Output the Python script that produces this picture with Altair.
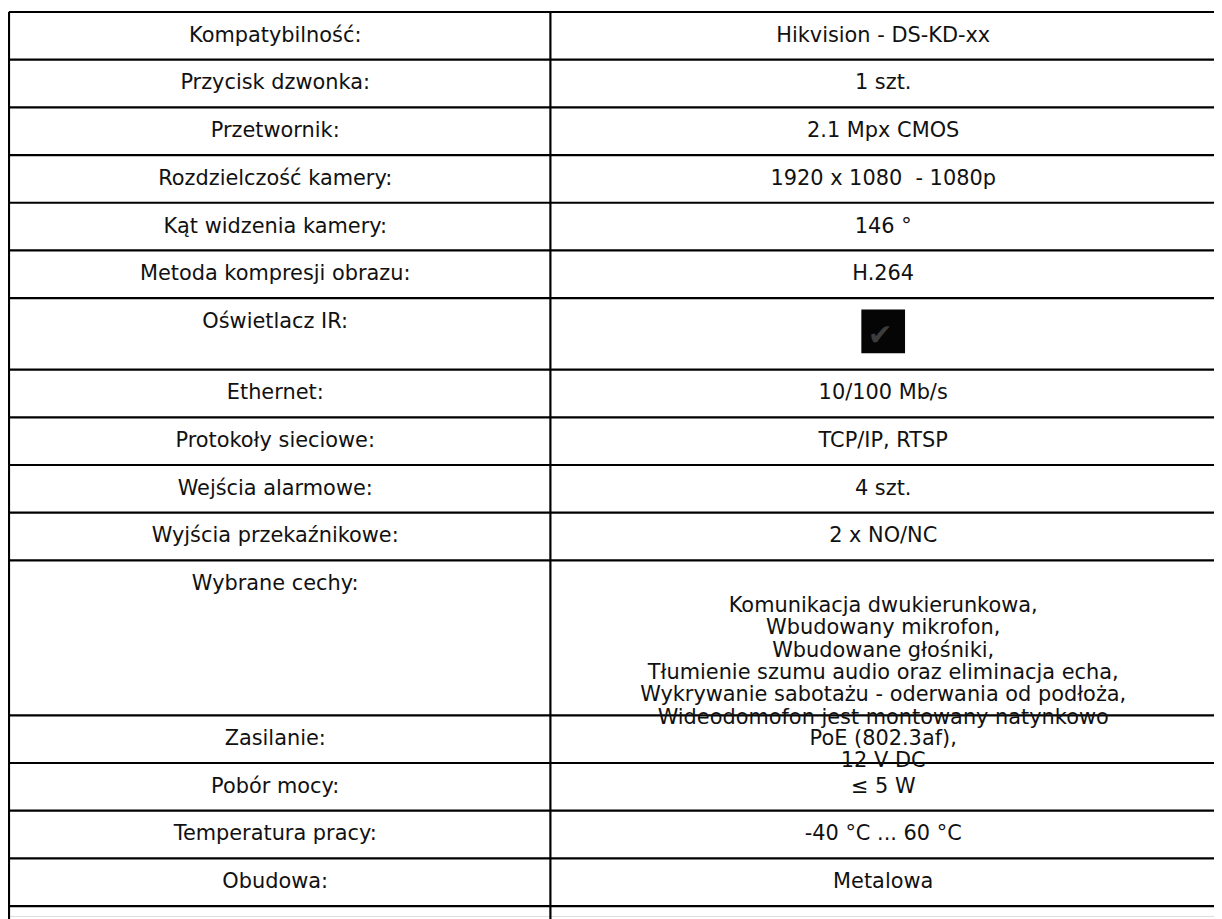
import altair as alt
import pandas as pd

# ---- table content ----
labels = [
    "Kompatybilność:", "Przycisk dzwonka:", "Przetwornik:", "Rozdzielczość kamery:",
    "Kąt widzenia kamery:", "Metoda kompresji obrazu:", "Oświetlacz IR:", "Ethernet:",
    "Protokoły sieciowe:", "Wejścia alarmowe:", "Wyjścia przekaźnikowe:", "Wybrane cechy:",
    "Zasilanie:", "Pobór mocy:", "Temperatura pracy:", "Obudowa:", "",
]
values = [
    ["Hikvision - DS-KD-xx"],
    ["1 szt."],
    ["2.1 Mpx CMOS"],
    ["1920 x 1080 \u00a0- 1080p"],
    ["146 °"],
    ["H.264"],
    [],
    ["10/100 Mb/s"],
    ["TCP/IP, RTSP"],
    ["4 szt."],
    ["2 x NO/NC"],
    ["Komunikacja dwukierunkowa,", "Wbudowany mikrofon,", "Wbudowane głośniki,",
     "Tłumienie szumu audio oraz eliminacja echa,",
     "Wykrywanie sabotażu - oderwania od podłoża,",
     "Wideodomofon jest montowany natynkowo"],
    ["PoE (802.3af),", "12 V DC"],
    ["≤ 5 W"],
    ["-40 °C ... 60 °C"],
    ["Metalowa"],
    [],
]
check_rows = ["Oświetlacz IR:"]

# ---- layout (page pixels) ----
PAGE_W, PAGE_H = 1222, 919
MARGIN = 8
LEFT, DIVIDER, RIGHT = 9, 554, 1226
TOP = 9
ROW_H = 48
ICON_ROW_H = 72
TALL_ROW_H = 156
TEXT_OFF = 24
LINE_H = 22.5
TALL_TEXT_OFF = 46
ICON = 44
FONT_SIZE = 21
LEFT_C, RIGHT_C = 277, 889

heights = []
for lab in labels:
    if lab in check_rows:
        heights.append(ICON_ROW_H)
    elif lab == "Wybrane cechy:":
        heights.append(TALL_ROW_H)
    else:
        heights.append(ROW_H)

tops = [TOP]
for h in heights:
    tops.append(tops[-1] + h)

hlines = pd.DataFrame({"x": [LEFT] * len(tops[:-1]), "x2": [RIGHT] * len(tops[:-1]), "y": tops[:-1]})
vlines = pd.DataFrame({"x": [LEFT, DIVIDER], "y": [TOP, TOP], "y2": [PAGE_H + 5, PAGE_H + 5]})

txt = []
for i, lab in enumerate(labels):
    if lab:
        txt.append({"x": LEFT_C, "y": tops[i] + TEXT_OFF, "t": lab})
    off = TALL_TEXT_OFF if len(values[i]) > 2 else TEXT_OFF
    for j, v in enumerate(values[i]):
        txt.append({"x": RIGHT_C, "y": tops[i] + off + j * LINE_H, "t": v})
txt = pd.DataFrame(txt)

icons = []
for i, lab in enumerate(labels):
    if lab in check_rows:
        cy = tops[i] + 33.5
        cx = RIGHT_C
        icons.append({"x": cx - ICON / 2, "x2": cx + ICON / 2,
                      "y": cy - ICON / 2, "y2": cy + ICON / 2,
                      "cx": cx - 3, "cy": cy + 5})
icons = pd.DataFrame(icons)

xs = alt.Scale(domain=[MARGIN, PAGE_W], range=[0, PAGE_W - MARGIN])
ys = alt.Scale(domain=[MARGIN, PAGE_H], range=[0, PAGE_H - MARGIN])

h_layer = alt.Chart(hlines).mark_rule(color="black", strokeWidth=2.2).encode(
    x=alt.X("x:Q", scale=xs, axis=None), x2="x2:Q",
    y=alt.Y("y:Q", scale=ys, axis=None))
v_layer = alt.Chart(vlines).mark_rule(color="black", strokeWidth=2.2).encode(
    x=alt.X("x:Q", scale=xs, axis=None),
    y=alt.Y("y:Q", scale=ys, axis=None), y2="y2:Q")
t_layer = alt.Chart(txt).mark_text(font="DejaVu Sans", fontSize=FONT_SIZE, color="#111",
                                   align="center", baseline="middle").encode(
    x=alt.X("x:Q", scale=xs, axis=None),
    y=alt.Y("y:Q", scale=ys, axis=None), text="t:N")
icon_box = alt.Chart(icons).mark_rect(color="#050505").encode(
    x=alt.X("x:Q", scale=xs, axis=None), x2="x2:Q",
    y=alt.Y("y:Q", scale=ys, axis=None), y2="y2:Q")
icon_tick = alt.Chart(icons).mark_text(text="✔", fontSize=30, color="#3c3c3c",
                                       font="DejaVu Sans", align="center",
                                       baseline="middle").encode(
    x=alt.X("cx:Q", scale=xs, axis=None),
    y=alt.Y("cy:Q", scale=ys, axis=None))

chart = alt.layer(h_layer, v_layer, icon_box, icon_tick, t_layer).properties(
    width=PAGE_W - MARGIN, height=PAGE_H - MARGIN,
    autosize=alt.AutoSizeParams(type="none"), padding=0,
).configure_view(stroke=None).configure(background="white")

chart.save("out.html", embed_options={"renderer": "svg", "actions": False})
